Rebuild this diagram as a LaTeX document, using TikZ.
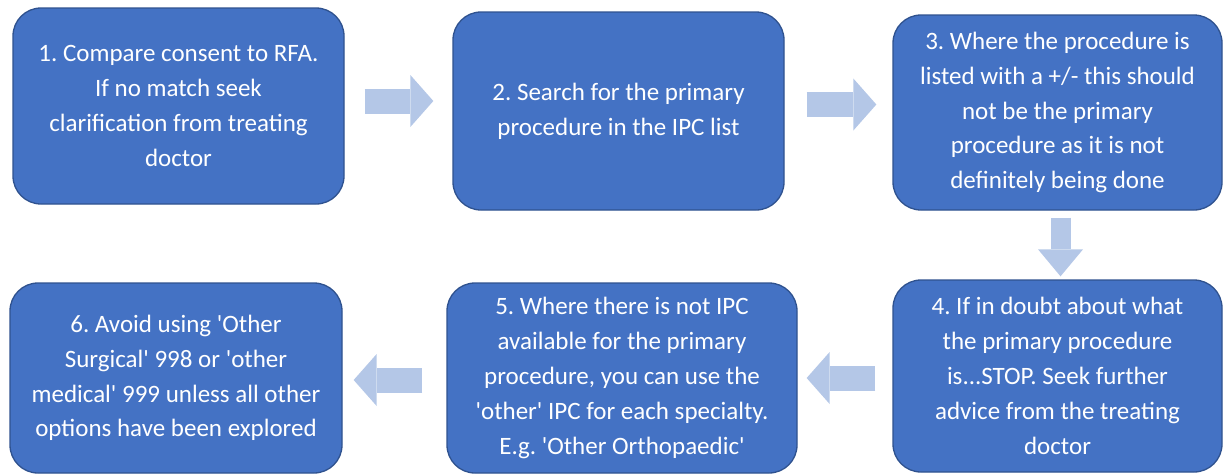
\documentclass[tikz,border=0pt]{standalone}
\usepackage{fontspec}
\setmainfont{Carlito}
\usepackage{tikz}
\usetikzlibrary{positioning,arrows.meta,calc}
\definecolor{stepblue}{RGB}{68,114,196}
\definecolor{edgeblue}{RGB}{47,82,143}
\definecolor{paleblue}{RGB}{180,199,231}
\newcommand{\sq}{\textquotesingle}
\frenchspacing

\begin{document}
\begin{tikzpicture}[x=1pt,y=-1pt,
    stepbox/.style={draw=edgeblue,line width=1.3pt,fill=stepblue,rounded corners=28pt,align=center,
        text=white,font=\fontsize{25}{34.8}\selectfont,inner sep=0pt,minimum width=331pt,minimum height=196pt},
    flow/.style={paleblue,line width=25pt,-{Triangle[length=23pt,width=52pt,line width=0pt]}},
    flowdown/.style={paleblue,line width=20pt,-{Triangle[length=27pt,width=45pt,line width=0pt]}}]
    \useasboundingbox (0,0) rectangle (1223,475);
    \node[stepbox] (s1) at (178.5,106) {1. Compare consent to RFA.\\If no match seek\\clarification from treating\\doctor};
    \node[stepbox,minimum height=198pt] (s2) at (618.5,111) {2. Search for the primary\\procedure in the IPC list};
    \node[stepbox,minimum width=329pt,minimum height=195pt] (s3) at (1057.5,112.5)
        {3. Where the procedure is\\listed with a +/- this should\\not be the primary\\procedure as it is not\\definitely being done};
    \node[stepbox,minimum width=329pt,minimum height=192pt] (s4) at (1057.5,376)
        {4. If in doubt about what\\the primary procedure\\is...STOP. Seek further\\advice from the treating\\doctor};
    \node[stepbox,minimum width=350pt,minimum height=190pt] (s5) at (622,378)
        {5. Where there is not IPC\\available for the primary\\procedure, you can use the\\\sq other\sq{} IPC for each specialty.\\E.g. \sq Other Orthopaedic\sq};
    \node[stepbox,minimum width=332pt,minimum height=190pt] (s6) at (176,378)
        {6. Avoid using \sq Other\\Surgical\sq{} 998 or \sq other\\medical\sq{} 999 unless all other\\options have been explored};
    \draw[flow] ($(s1.east)+(20,-5)$) -- ($(s2.west)+(-19,-10)$);
    \draw[flow] ($(s2.east)+(22,-6.5)$) -- ($(s3.west)+(-16,-8)$);
    \draw[flowdown] ($(s3.south)+(3,7)$) -- ($(s4.north)+(3,-3)$);
    \draw[flow] ($(s4.west)+(-17,2)$) -- ($(s5.east)+(9,0)$);
    \draw[flow] ($(s5.west)+(-24,2)$) -- ($(s6.east)+(11,2)$);
\end{tikzpicture}
\end{document}
